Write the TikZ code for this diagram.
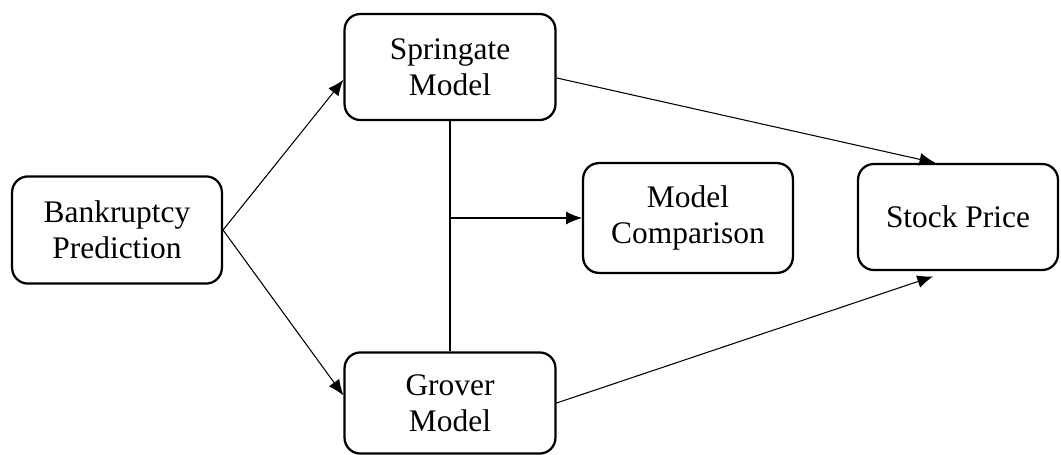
\documentclass[tikz,border=0pt]{standalone}
\usepackage{fontspec}
\setmainfont{Liberation Serif}
\usetikzlibrary{arrows.meta,positioning}

\begin{document}
\begin{tikzpicture}[
  x=0.0265cm, y=-0.0265cm,
  stage/.style={draw, line width=1.7pt, rounded corners=0.42cm, align=center, inner sep=0pt,
    font=\fontsize{23.7}{27.2}\selectfont},
  arr/.style={-{Latex[length=4.2mm, width=3.4mm]}, line width=0.8pt}
]
\useasboundingbox (0,0) rectangle (1061,455);
\node[stage, minimum width=5.56cm, minimum height=2.84cm] (bp) at (117,230) {Bankruptcy\\Prediction};
\node[stage, minimum width=5.59cm, minimum height=2.81cm] (sg) at (450,67) {Springate\\Model};
\node[stage, minimum width=5.59cm, minimum height=2.68cm] (gv) at (450,403) {Grover\\Model};
\node[stage, minimum width=5.56cm, minimum height=2.91cm] (cmp) at (688,218) {Model\\Comparison};
\node[stage, minimum width=5.30cm, minimum height=2.81cm] (st) at (958,217) {Stock Price};
\coordinate (jn) at (sg.south |- cmp.west);
\draw[arr] (bp.east) -- ([yshift=-0.34cm]sg.west);
\draw[arr] (bp.east) -- ([yshift=0.2cm]gv.west);
\draw[line width=0.8pt] (sg.south) -- (gv.north);
\draw[arr] (jn) -- (cmp.west);
\draw[arr] ([yshift=-0.29cm]sg.east) -- ([xshift=-0.6cm]st.north);
\draw[arr] (gv.east) -- ([xshift=-0.66cm,yshift=-0.14cm]st.south);
\end{tikzpicture}
\end{document}
